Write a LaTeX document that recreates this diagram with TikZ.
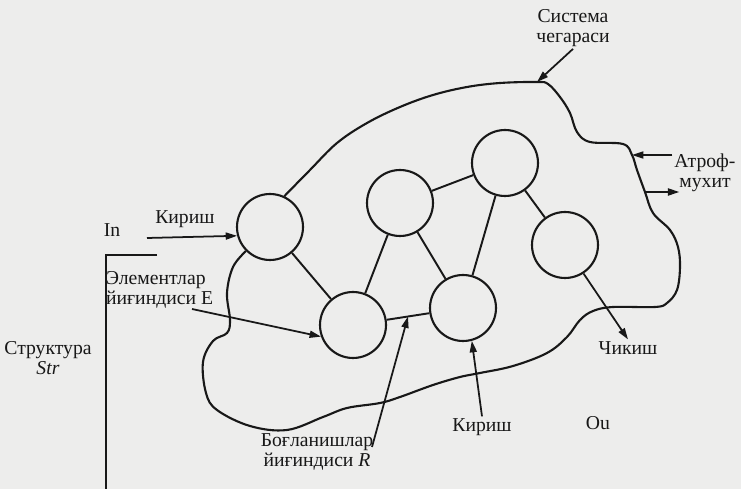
\documentclass[tikz,border=0pt]{standalone}
\usepackage{fontspec}
\setmainfont{Liberation Serif}
\usetikzlibrary{arrows.meta,positioning,calc}
\definecolor{paper}{HTML}{EDEDEC}
\definecolor{ink}{HTML}{181818}
\tikzset{
 elem/.style={circle,draw=ink,line width=1.2pt,minimum size=1.32cm,inner sep=0pt},
 link/.style={draw=ink,line width=1.1pt},
 border/.style={draw=ink,line width=1.2pt,smooth,tension=0.6},
 arr/.style={draw=ink,line width=1pt,-{Triangle[length=6.5pt,width=4pt]}},
 lbl/.style={font=\fontsize{11.2}{11.6}\selectfont,text=ink,inner sep=1pt,align=center}}

\begin{document}
\begin{tikzpicture}[x=0.02cm,y=-0.02cm]
\fill[paper] (0,0) rectangle (741,489);
\useasboundingbox (0,0) rectangle (741,489);
% elements of the system
\foreach \n/\x/\y in {1/270/227,2/353/325,3/400/203,4/505/163,5/463/308,6/565/245}
 \node[elem] (e\n) at (\x,\y) {};
% links
\draw[link] (e1) -- (e2);
\draw[link] (e2) -- (e3);
\draw[link] (e3) -- (e4);
\draw[link] (e3) -- (e5);
\draw[link] (e4) -- (e5);
\draw[link] (e4) -- (e6);
\draw[link] (e2) -- coordinate (rmid) (e5);
% system boundary
\coordinate (bsys) at (537,82);
\coordinate (bin) at (632,155);
\coordinate (bout) at (645,192);
\draw[border] plot coordinates {(e1.65) (310,170) (337,143) (367,123) (400,107) (433,95) (467,87) (500,83) (bsys) (548,84) (560,97) (570,113) (577,132) (590,142) (623,144) (bin) (637,170) (bout) (653,213) (670,230) (678,247) (680,267) (677,290) (667,303) (655,307) (613,307) (593,311) (580,320) (567,337) (547,353) (513,366) (480,373) (460,377) (433,385) (400,397) (380,403) (347,408) (323,417) (287,430) (250,426) (217,410) (206,393) (203,362) (213,341) (227,333) (230,320) (227,293) (233,267) (e1.225)};
% labels
\node[lbl] (in) at (112,230) {In};
\node[lbl] (sys) at (573,28) {Система\\чегараси};
\node[lbl] (atrof) at (705,173) {Атроф-\\мухит};
\node[lbl,align=left,anchor=west] (elset) at (104,290) {Элементлар\\йиғиндиси E};
\node[lbl] (str) at (48,358) {Структура\\\textit{Str}};
\node[lbl] (bond) at (317,452) {Боғланишлар\\йиғиндиси \textit{R}};
\node[lbl] (kir2) at (482,427) {Кириш};
\node[lbl] (ou) at (598,423) {Ou};
\node[lbl] (chik) at (628,348) {Чикиш};
% structure bracket
\coordinate (strtop) at (106,255);
\coordinate (strtick) at (157,255);
\coordinate (strbot) at (106,489);
\draw[link] (strtick) -- (strtop) -- (strbot);
% arrows
\coordinate (instart) at (147,238);
\coordinate (estart) at (192,309);
\coordinate (rstart) at (372,447);
\draw[arr] (instart) -- node[lbl,above=4pt,pos=0.42] (kir1) {Кириш} (e1.195);
\draw[arr] (estart) -- (e2.200);
\draw[arr] (rstart) -- (rmid);
\draw[arr] (kir2.north) -- (e5.-75);
\draw[arr] (e6.-57) -- (chik.north);
\draw[arr] (sys.south) -- (bsys);
\draw[arr] (atrof.north west |- bin) -- (bin);
\draw[arr] (bout) -- ([xshift=4pt]atrof.west |- bout);
\end{tikzpicture}
\end{document}
